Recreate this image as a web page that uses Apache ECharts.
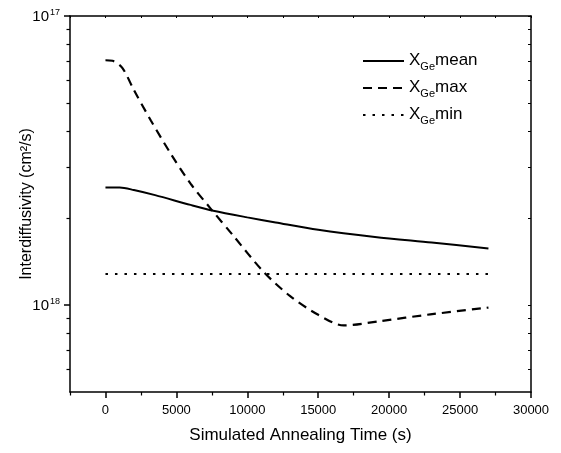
<!DOCTYPE html>
<html>
<head>
<meta charset="utf-8">
<script src="https://cdn.jsdelivr.net/npm/echarts@6/dist/echarts.min.js"></script>
<style>html,body{margin:0;padding:0;background:#fff}#c{width:561px;height:453px}</style>
</head>
<body>
<div id="c"></div>
<script>
// ---- data ----
const timeMean = [0, 1000, 2000, 3500, 6000, 7600, 10000, 12000, 15000, 19000, 23000, 27000];
const valMean = [2.55e-18, 2.55e-18, 2.50e-18, 2.40e-18, 2.22e-18, 2.12e-18, 2.01e-18, 1.93e-18, 1.82e-18, 1.72e-18, 1.645e-18, 1.57e-18];
const timeMax = [0, 500, 1200, 2000, 3200, 4600, 6000, 7400, 9000, 11100, 13000, 15000, 16800, 19400, 22900, 27000];
const valMax = [7.03e-18, 7.0e-18, 6.6e-18, 5.55e-18, 4.35e-18, 3.34e-18, 2.63e-18, 2.16e-18, 1.74e-18, 1.31e-18, 1.075e-18, 9.25e-19, 8.5e-19, 8.8e-19, 9.28e-19, 9.8e-19];
const timeMin = [0, 27000];
const valMin = [1.28e-18, 1.28e-18];
const seriesNames = ['mean', 'max', 'min'];
const xLabelValues = [0, 5000, 10000, 15000, 20000, 25000, 30000];
const xMinorValues = [-2500, 2500, 7500, 12500, 17500, 22500, 27500];
const yMajorValues = [1e-18, 1e-17];
const yMinorValues = [6e-19, 7e-19, 8e-19, 9e-19, 2e-18, 3e-18, 4e-18, 5e-18, 6e-18, 7e-18, 8e-18, 9e-18];

const zip = (a, b) => a.map((t, i) => [t, b[i]]);
const FONT = 'Liberation Sans, Arial, sans-serif';
const black = '#000';

const chart = echarts.init(document.getElementById('c'), null, {renderer: 'canvas'});

function legendFor(name, top) {
  return {
    data: [name], left: 362, top: top, padding: 0, itemWidth: 41, itemHeight: 12, itemGap: 5,
    itemStyle: {color: 'rgba(0,0,0,0)', borderWidth: 0, opacity: 0},
    formatter: n => '{x|X}{s|Ge}{t|' + n + '}',
    textStyle: {
      fontFamily: FONT, color: black,
      rich: {
        x: {fontSize: 17, lineHeight: 18, verticalAlign: 'top', fontFamily: FONT, color: black},
        s: {fontSize: 11, lineHeight: 11, padding: [9, 0, 0, 0], verticalAlign: 'top', fontFamily: FONT, color: black},
        t: {fontSize: 17, lineHeight: 18, verticalAlign: 'top', fontFamily: FONT, color: black}
      }
    }
  };
}

const yMin = 5e-19, yMax = 1e-17;
const axisLine = {show: true, onZero: false, lineStyle: {color: black, width: 1.5}};
const hiddenLine = {show: false, onZero: false};

chart.setOption({
  animation: false,
  backgroundColor: '#fff',
  grid: {left: 70, right: 30, top: 16, bottom: 61, containLabel: false},
  legend: [legendFor(seriesNames[0], 52), legendFor(seriesNames[1], 79), legendFor(seriesNames[2], 106)],
  xAxis: [
    {
      type: 'value', min: -2500, max: 30000, position: 'bottom',
      axisLine: axisLine,
      axisTick: {show: true, inside: false, length: 6, lineStyle: {color: black, width: 1.5}, customValues: xLabelValues},
      axisLabel: {show: true, customValues: xLabelValues, formatter: v => String(v), color: black, fontSize: 13, fontFamily: FONT, margin: 12},
      splitLine: {show: false},
      name: 'Simulated Annealing Time (s)', nameLocation: 'middle', nameGap: 35, nameMoveOverlap: false,
      nameTextStyle: {fontSize: 17, color: black, fontFamily: FONT}
    },
    {
      type: 'value', min: -2500, max: 30000, position: 'bottom',
      axisLine: hiddenLine,
      axisTick: {show: true, inside: false, length: 3.5, lineStyle: {color: black, width: 1.2}, customValues: xMinorValues},
      axisLabel: {show: false}, splitLine: {show: false}
    },
    {
      type: 'value', min: -2500, max: 30000, position: 'top',
      axisLine: axisLine,
      axisTick: {show: true, inside: true, length: 2, lineStyle: {color: black, width: 1}, customValues: xLabelValues.concat(xMinorValues)},
      axisLabel: {show: false}, splitLine: {show: false}
    }
  ],
  yAxis: [
    {
      type: 'log', logBase: 10, min: yMin, max: yMax, position: 'left',
      axisLine: axisLine,
      axisTick: {show: true, inside: false, length: 6, lineStyle: {color: black, width: 1.5}, customValues: yMajorValues},
      axisLabel: {
        show: true, customValues: yMajorValues, margin: 10,
        formatter: v => '{b|10}{s|' + Math.round(-Math.log10(v)) + '}',
        rich: {
          b: {fontSize: 15, lineHeight: 16, verticalAlign: 'bottom', color: black, fontFamily: FONT},
          s: {fontSize: 9, lineHeight: 9, verticalAlign: 'top', color: black, fontFamily: FONT, padding: [0, 0, 0, 1]}
        }
      },
      splitLine: {show: false},
      name: 'Interdiffusivity (cm²/s)', nameLocation: 'middle', nameGap: 35, nameRotate: 90, nameMoveOverlap: false,
      nameTextStyle: {fontSize: 16, color: black, fontFamily: FONT}
    },
    {
      type: 'log', logBase: 10, min: yMin, max: yMax, position: 'left',
      axisLine: hiddenLine,
      axisTick: {show: true, inside: false, length: 3.5, lineStyle: {color: black, width: 1.2}, customValues: yMinorValues},
      axisLabel: {show: false}, splitLine: {show: false}
    },
    {
      type: 'log', logBase: 10, min: yMin, max: yMax, position: 'right',
      axisLine: axisLine,
      axisTick: {show: true, inside: true, length: 3, lineStyle: {color: black, width: 1}, customValues: yMinorValues.concat(yMajorValues)},
      axisLabel: {show: false}, splitLine: {show: false}
    }
  ],
  series: [
    {
      name: seriesNames[0], type: 'line', xAxisIndex: 0, yAxisIndex: 0, data: zip(timeMean, valMean),
      symbol: 'none', smooth: 0.3, lineStyle: {color: black, width: 2, type: 'solid'}, itemStyle: {color: black}
    },
    {
      name: seriesNames[1], type: 'line', xAxisIndex: 0, yAxisIndex: 0, data: zip(timeMax, valMax),
      symbol: 'none', smooth: 0.3, lineStyle: {color: black, width: 2.2, type: [9, 6]}, itemStyle: {color: black}
    },
    {
      name: seriesNames[2], type: 'line', xAxisIndex: 0, yAxisIndex: 0, data: zip(timeMin, valMin),
      symbol: 'none', lineStyle: {color: black, width: 2.2, type: [2.5, 7]}, itemStyle: {color: black}
    }
  ]
});
</script>
</body>
</html>
